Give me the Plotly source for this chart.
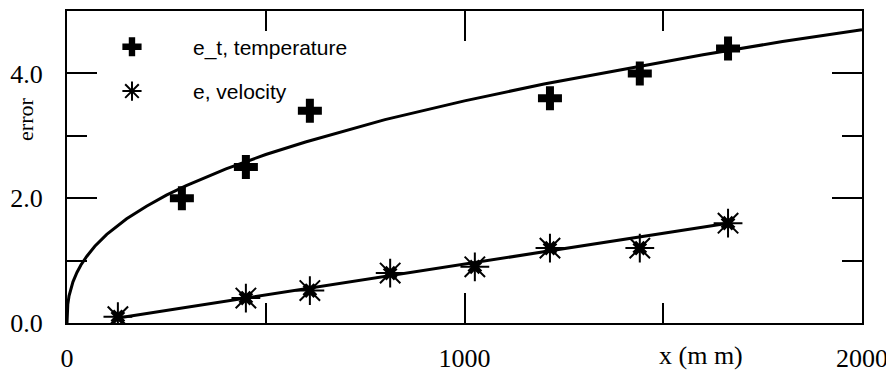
import plotly.graph_objects as go

# fitted curve for temperature error
curve_t_x = [0, 2, 5, 10, 15, 25, 35, 50, 70, 100, 150, 200, 250, 300, 400, 500, 600, 800, 1000, 1200, 1400, 1600, 1800, 2000]
curve_t_y = [0, 0.30, 0.43, 0.57, 0.66, 0.81, 0.93, 1.07, 1.23, 1.42, 1.67, 1.87, 2.05, 2.20, 2.47, 2.70, 2.90, 3.26, 3.56, 3.83, 4.07, 4.30, 4.51, 4.70]

# fitted line for velocity error
line_v_x = [128, 1663]
line_v_y = [0.08, 1.60]

# measured points
temp_x = [289, 450, 611, 1215, 1441, 1663]
temp_y = [2.0, 2.5, 3.4, 3.6, 4.0, 4.4]
vel_x = [128, 450, 611, 813, 1026, 1215, 1441, 1663]
vel_y = [0.1, 0.4, 0.52, 0.8, 0.9, 1.2, 1.2, 1.6]

x_tickvals = [0, 1000, 2000]
x_minor = [500, 1500]
y_tickvals = [0, 2, 4]
y_minor = [1, 3, 5]

fig = go.Figure()
fig.add_trace(go.Scatter(x=curve_t_x, y=curve_t_y, mode="lines", line=dict(color="black", width=3),
                         showlegend=False, hoverinfo="skip"))
fig.add_trace(go.Scatter(x=line_v_x, y=line_v_y, mode="lines", line=dict(color="black", width=3),
                         showlegend=False, hoverinfo="skip"))
fig.add_trace(go.Scatter(x=temp_x, y=temp_y, mode="markers", name="e_t, temperature",
                         marker=dict(symbol="cross", size=20, color="black", line=dict(width=0)),
                         legendgroup="a"))
fig.add_trace(go.Scatter(x=vel_x, y=vel_y, mode="markers", showlegend=False, hoverinfo="skip",
                         marker=dict(symbol="x", size=13, color="black", line=dict(width=0))))
fig.add_trace(go.Scatter(x=vel_x, y=vel_y, mode="markers", name="e, velocity",
                         marker=dict(symbol="asterisk-open", size=24, color="black", line=dict(width=2, color="black")),
                         legendgroup="b"))

serif = "Liberation Serif, Times New Roman, serif"
axis_common = dict(showline=True, linecolor="black", linewidth=2, mirror="ticks", ticks="inside",
                   tickwidth=1.5, tickcolor="black", ticklen=30, showgrid=False, zeroline=False,
                   tickfont=dict(family=serif, size=26, color="black"))

fig.update_layout(
    width=886, height=372,
    margin=dict(l=59, r=32, t=1, b=57),
    paper_bgcolor="white", plot_bgcolor="white",
    xaxis=dict(range=[0, 2000], tickvals=x_tickvals, ticktext=[str(v) for v in x_tickvals],
               minor=dict(tickvals=x_minor, ticklen=20, ticks="inside", tickwidth=1.5, tickcolor="black"),
               ticklabelstandoff=11, **axis_common),
    yaxis=dict(range=[0, 5], tickvals=y_tickvals, ticktext=["%.1f" % v for v in y_tickvals],
               minor=dict(tickvals=y_minor, ticklen=20, ticks="inside", tickwidth=1.5, tickcolor="black"),
               ticklabelstandoff=17, **axis_common),
    legend=dict(x=0.005, y=0.95, xanchor="left", yanchor="top", bgcolor="rgba(0,0,0,0)",
                font=dict(family="Liberation Sans, Arial, sans-serif", size=21, color="black"),
                itemwidth=112, tracegroupgap=14, traceorder="grouped"),
    showlegend=True,
    annotations=[
        dict(text="error", textangle=-90, xref="paper", yref="paper", x=-0.052, y=0.653,
             xanchor="center", yanchor="middle", showarrow=False,
             font=dict(family=serif, size=22, color="black")),
        dict(text="x (m m)", xref="x", yref="paper", x=1485, y=-0.05, xanchor="left", yanchor="top",
             showarrow=False, font=dict(family=serif, size=26, color="black")),
    ],
)

fig.write_html("out.html")
